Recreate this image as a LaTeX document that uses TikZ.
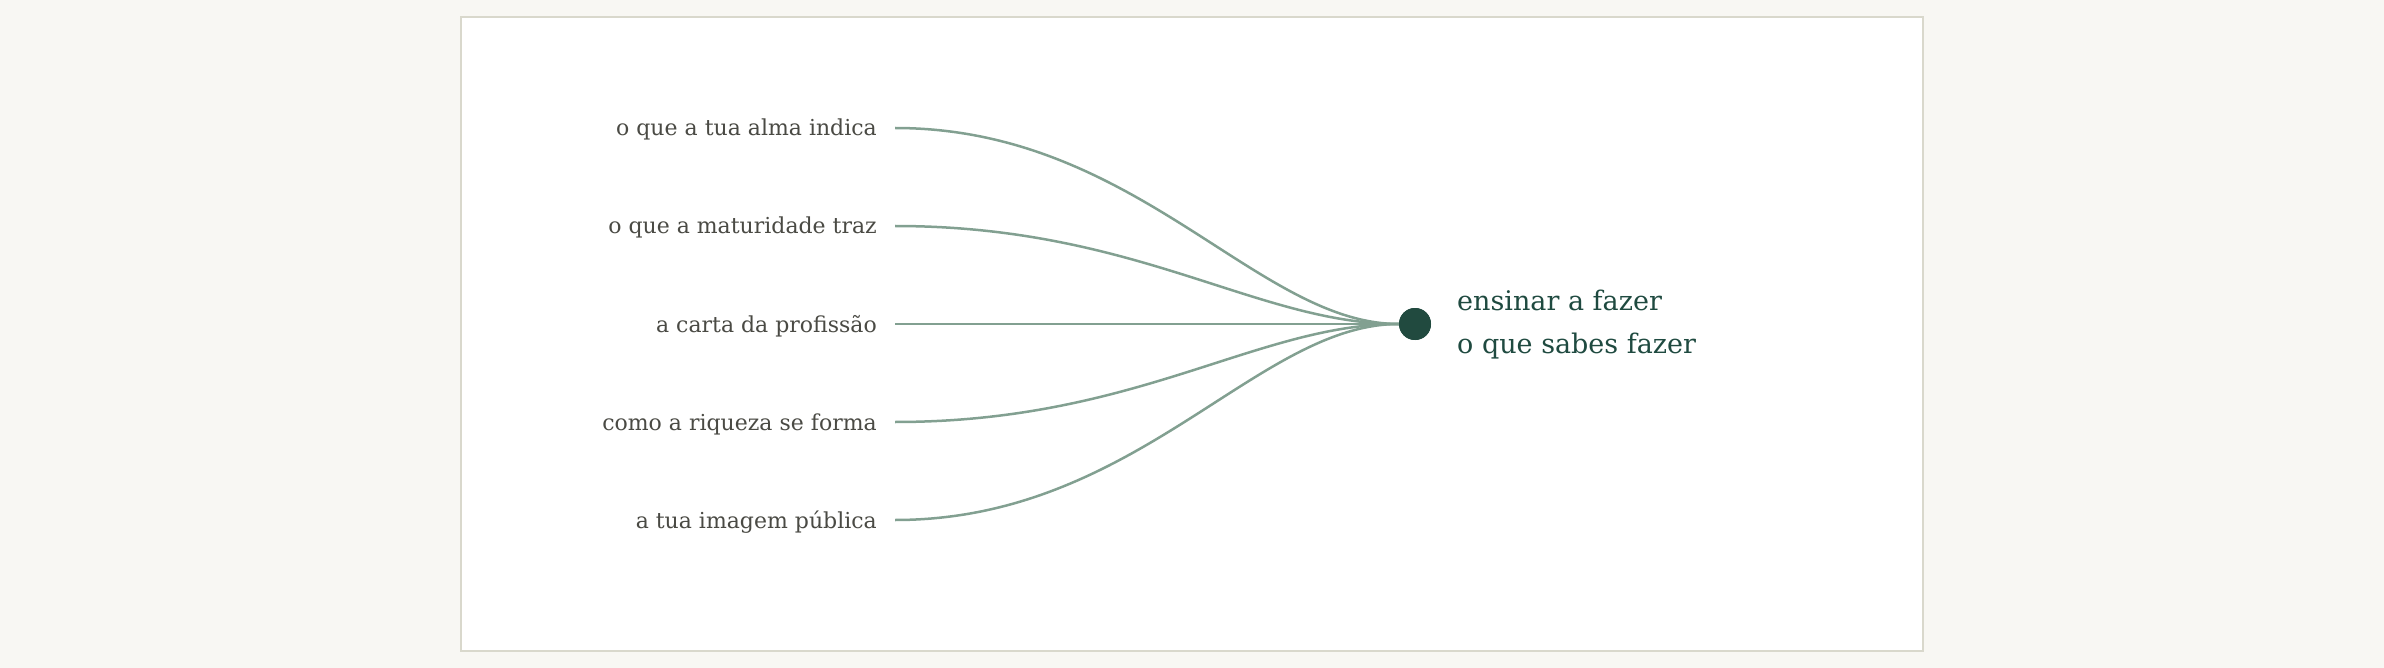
\documentclass[tikz,border=0pt]{standalone}
\usepackage{fontspec}
\setmainfont{DejaVu Serif}
\definecolor{pagebg}{HTML}{F8F7F3}
\definecolor{framec}{HTML}{D9D8CC}
\definecolor{linkc}{HTML}{82A091}
\definecolor{hubc}{HTML}{214A3F}
\definecolor{labc}{HTML}{4A4A44}
\definecolor{titc}{HTML}{1F4A40}
\begin{document}
\begin{tikzpicture}[x=1pt,y=-1pt,
  lab/.style={anchor=base east,inner sep=0pt,text=labc,font=\fontsize{22}{26}\selectfont},
  link/.style={draw=linkc,line width=2.5pt},
  hubdot/.style={circle,fill=hubc,minimum size=32pt,inner sep=0pt},
  title/.style={anchor=base west,inner sep=0pt,text=titc,align=left,font=\fontsize{27}{43}\selectfont}]
\fill[pagebg] (0,0) rectangle (2384,668);
\useasboundingbox (0,0) rectangle (2384,668);
\draw[framec,fill=white,line width=2pt] (461,17) rectangle (1923,651);
\node[lab] (l1) at (877,136) {o que a tua alma indica};
\node[lab] (l2) at (877,234) {o que a maturidade traz};
\node[lab] (l3) at (877,332) {a carta da profissão};
\node[lab] (l4) at (877,430) {como a riqueza se forma};
\node[lab] (l5) at (877,528) {a tua imagem pública};
\coordinate (s1) at (895,128);
\coordinate (s2) at (895,226);
\coordinate (s3) at (895,324);
\coordinate (s4) at (895,422);
\coordinate (s5) at (895,520);
\node[hubdot] (hub) at (1415,324) {};
\foreach \i in {1,...,5}{
  \draw[link] (s\i) .. controls +(242,0) and +(-142,0) .. (hub.west);
}
\node[hubdot] at (hub) {};
\node[title] (t) at (1457,353) {ensinar a fazer\\o que sabes fazer};
\end{tikzpicture}
\end{document}
